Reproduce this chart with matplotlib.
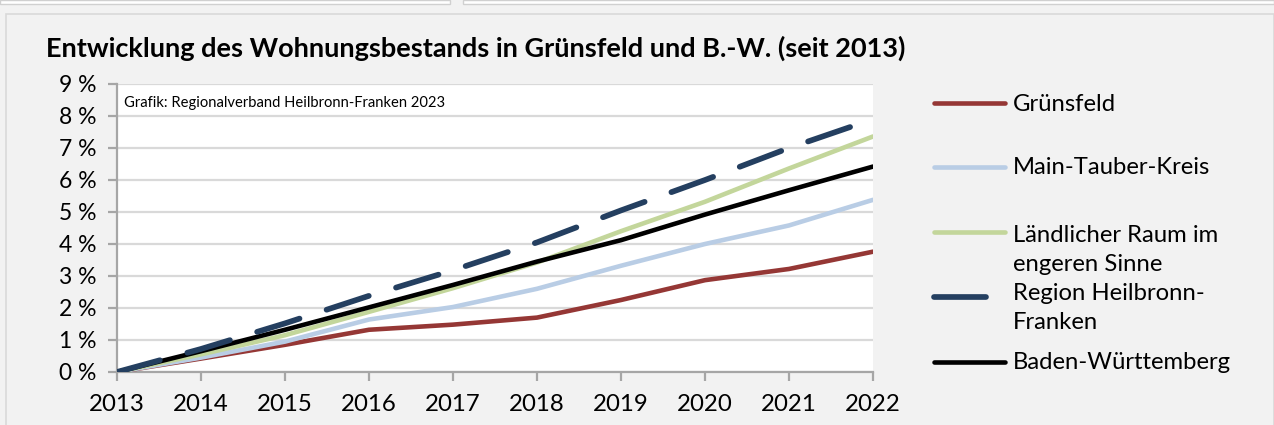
import matplotlib
matplotlib.use("Agg")
import matplotlib.pyplot as plt
from matplotlib.lines import Line2D
from matplotlib.patches import Rectangle

years = [2013, 2014, 2015, 2016, 2017, 2018, 2019, 2020, 2021, 2022]
gruensfeld = [0.0, 0.42, 0.85, 1.32, 1.48, 1.70, 2.25, 2.87, 3.22, 3.76]
main_tauber = [0.0, 0.45, 0.95, 1.64, 2.03, 2.60, 3.32, 4.00, 4.58, 5.38]
laendlich = [0.0, 0.55, 1.15, 1.88, 2.62, 3.42, 4.40, 5.32, 6.36, 7.36]
region_hnf = [0.0, 0.72, 1.52, 2.38, 3.18, 4.05, 5.05, 6.00, 7.00, 7.90]
bw = [0.0, 0.65, 1.32, 2.02, 2.72, 3.45, 4.12, 4.92, 5.68, 6.42]

series_names = ["Grünsfeld", "Main-Tauber-Kreis", "Ländlicher Raum im\nengeren Sinne",
                "Region Heilbronn-\nFranken", "Baden-Württemberg"]
series_values = [gruensfeld, main_tauber, laendlich, region_hnf, bw]
series_colors = ["#953735", "#b9cde5", "#c3d69b", "#243f60", "#000000"]
series_dashed = [False, False, False, True, False]
yticks = list(range(0, 10))
ytick_labels = [f"{v} %" for v in yticks]

title = "Entwicklung des Wohnungsbestands in Grünsfeld und B.-W. (seit 2013)"
source = "Grafik: Regionalverband Heilbronn-Franken 2023"

plt.rcParams['font.family'] = ['Lato', 'DejaVu Sans']

W, H = 1274, 425
fig = plt.figure(figsize=(W / 100, H / 100), dpi=100, facecolor="#f2f2f2")

# decorative frame pieces
fig.patches.append(Rectangle((0, (H - 4) / H), 450 / W, 4 / H, transform=fig.transFigure,
                             facecolor="white", edgecolor="#d0d0d0", lw=1, zorder=-5))
fig.patches.append(Rectangle((463 / W, (H - 4) / H), (W - 463) / W, 4 / H, transform=fig.transFigure,
                             facecolor="white", edgecolor="#d0d0d0", lw=1, zorder=-5))
fig.patches.append(Rectangle((6 / W, -0.01), (W - 6) / W, (H - 14) / H + 0.01, transform=fig.transFigure,
                             facecolor="#f2f2f2", edgecolor="#d9d9d9", lw=1.2, zorder=-5))

x0, x1, ytop, ybot = 117, 873, 84, 372
ax = fig.add_axes([x0 / W, 1 - ybot / H, (x1 - x0) / W, (ybot - ytop) / H])
ax.set_zorder(2)
ax.set_facecolor("white")
ax.set_xlim(2013, 2022)
ax.set_ylim(0, 9)
ax.set_yticks(yticks)
ax.set_yticklabels(ytick_labels)
ax.set_xticks(years)
ax.set_xticklabels([str(y) for y in years])
ax.grid(axis="y", color="#d9d9d9", lw=1.6)
ax.set_axisbelow(True)
for s in ["top", "right"]:
    ax.spines[s].set_visible(False)
for s in ["left", "bottom"]:
    ax.spines[s].set_color("#a6a6a6")
    ax.spines[s].set_linewidth(1.6)
ax.tick_params(axis="both", colors="#a6a6a6", width=1.6, length=6.5, labelcolor="black")
ax.tick_params(axis="y", pad=8.5, labelsize=16.5)
ax.tick_params(axis="x", pad=9, labelsize=17.3)

order = [0, 1, 2, 4, 3]
for i in order:
    if series_dashed[i]:
        ax.plot(years, series_values[i], color=series_colors[i], lw=4.1,
                dashes=(7.8, 5.0), dash_capstyle="round", solid_capstyle="round", zorder=3)
    else:
        ax.plot(years, series_values[i], color=series_colors[i], lw=3.3,
                solid_capstyle="round", zorder=3)

ax.text(7 / (x1 - x0), (ybot - 107.3) / (ybot - ytop), source, transform=ax.transAxes,
        fontsize=10.6, va="baseline", ha="left")

fig.text(46 / W, 1 - 48 / H, title, fontsize=19.55, fontweight="bold", va="center", ha="left")

# legend (manual, Excel-like)
leg_line_y = [102.7, 167.3, 232.3, 297.0, 362.3]
leg_base_y = [110.7, 174.3, 241.7, 300.0, 369.0]
line_step = 29.3
for i in range(5):
    yy = 1 - leg_line_y[i] / H
    xe = 986 if series_dashed[i] else 1005
    fig.add_artist(Line2D([934 / W, xe / W], [yy, yy], transform=fig.transFigure,
                          color=series_colors[i], lw=3.3 if not series_dashed[i] else 4.1,
                          solid_capstyle="round"))
    for k, part in enumerate(series_names[i].split("\n")):
        fig.text(1013 / W, 1 - (leg_base_y[i] + k * line_step) / H, part, fontsize=17.2,
                 va="baseline", ha="left")

fig.savefig("out.png", dpi=100, facecolor=fig.get_facecolor())
